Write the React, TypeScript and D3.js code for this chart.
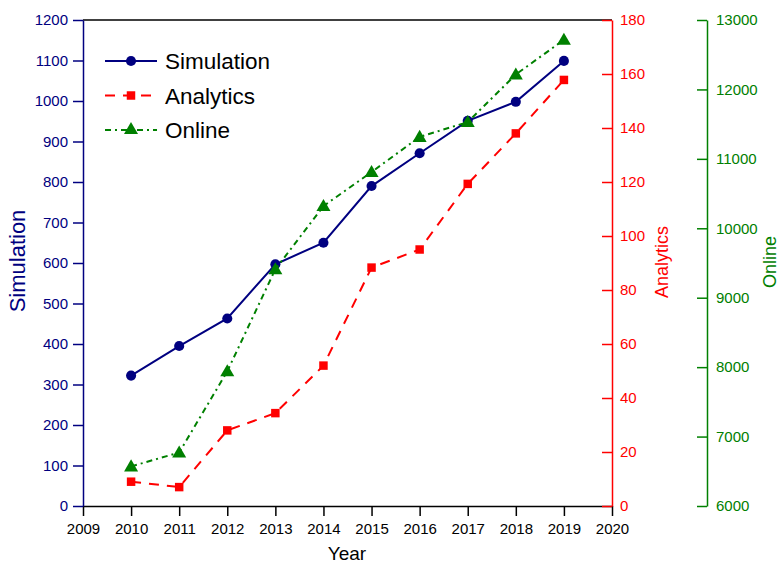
import React, { useEffect, useRef } from "react";
import * as d3 from "d3";

const years = [2010, 2011, 2012, 2013, 2014, 2015, 2016, 2017, 2018, 2019];
const simulation = [322, 395, 463, 597, 650, 790, 871, 951, 998, 1099];
const analytics = [9, 7, 28, 34.4, 52, 88.3, 95, 119.3, 138, 157.8];
const online = [6570, 6770, 7940, 9410, 10320, 10810, 11316, 11530, 12215, 12715];
const xTicks = [2009, 2010, 2011, 2012, 2013, 2014, 2015, 2016, 2017, 2018, 2019, 2020];
const simTicks = [0, 100, 200, 300, 400, 500, 600, 700, 800, 900, 1000, 1100, 1200];
const anaTicks = [0, 20, 40, 60, 80, 100, 120, 140, 160, 180];
const onlTicks = [6000, 7000, 8000, 9000, 10000, 11000, 12000, 13000];

const BLUE = "#000080";
const RED = "#FF0000";
const GREEN = "#008000";
const FONT = "'Liberation Sans', Arial, Helvetica, sans-serif";

export default function App() {
  const ref = useRef<SVGSVGElement>(null);
  useEffect(() => {
    const svg = d3.select(ref.current);
    svg.selectAll("*").remove();
    const L = 83, R = 612, T = 20, B = 506, G = 707;
    const x = d3.scaleLinear().domain([2009, 2020]).range([L, R]);
    const yS = d3.scaleLinear().domain([0, 1200]).range([B, T]);
    const yA = d3.scaleLinear().domain([0, 180]).range([B, T]);
    const yO = d3.scaleLinear().domain([6000, 13000]).range([B, T]);
    const fmt = d3.format("d");

    const g = svg.append("g").attr("font-family", FONT);

    // top border
    g.append("line").attr("x1", L).attr("x2", R).attr("y1", T).attr("y2", T)
      .attr("stroke", "#000").attr("stroke-width", 1.5);

    // bottom axis
    const xa = g.append("g").attr("transform", `translate(0,${B})`)
      .call(d3.axisBottom(x).tickValues(xTicks).tickFormat(fmt).tickSize(10).tickSizeOuter(0));
    xa.select(".domain").attr("stroke", "#000").attr("stroke-width", 1.5);
    xa.selectAll(".tick line").attr("stroke", "#000").attr("stroke-width", 1.5);
    xa.selectAll(".tick text").attr("fill", "#000").attr("font-size", 15).attr("font-family", FONT).attr("dy", "1.0em");

    // left axis
    const la = g.append("g").attr("transform", `translate(${L},0)`)
      .call(d3.axisLeft(yS).tickValues(simTicks).tickFormat(fmt).tickSize(10).tickSizeOuter(0));
    la.select(".domain").attr("stroke", BLUE).attr("stroke-width", 1.5);
    la.selectAll(".tick line").attr("stroke", BLUE).attr("stroke-width", 1.5);
    la.selectAll(".tick text").attr("fill", BLUE).attr("font-size", 15).attr("font-family", FONT).attr("x", -15);

    // red axis
    const ra = g.append("g").attr("transform", `translate(${R},0)`)
      .call(d3.axisRight(yA).tickValues(anaTicks).tickFormat(fmt).tickSize(-10).tickSizeOuter(0));
    ra.select(".domain").attr("stroke", RED).attr("stroke-width", 1.5);
    ra.selectAll(".tick line").attr("stroke", RED).attr("stroke-width", 1.5);
    ra.selectAll(".tick text").attr("fill", RED).attr("font-size", 15).attr("font-family", FONT).attr("x", 8);

    // green axis
    const ga = g.append("g").attr("transform", `translate(${G},0)`)
      .call(d3.axisRight(yO).tickValues(onlTicks).tickFormat(fmt).tickSize(-10).tickSizeOuter(0));
    ga.select(".domain").attr("stroke", GREEN).attr("stroke-width", 1.5);
    ga.selectAll(".tick line").attr("stroke", GREEN).attr("stroke-width", 1.5);
    ga.selectAll(".tick text").attr("fill", GREEN).attr("font-size", 15).attr("font-family", FONT).attr("x", 9);

    // axis titles
    g.append("text").attr("x", 347).attr("y", 560).attr("text-anchor", "middle")
      .attr("font-size", 19).attr("fill", "#000").text("Year");
    g.append("text").attr("transform", "translate(25,261) rotate(-90)").attr("text-anchor", "middle")
      .attr("font-size", 22).attr("fill", BLUE).text("Simulation");
    g.append("text").attr("transform", "translate(668,262) rotate(-90)").attr("text-anchor", "middle")
      .attr("font-size", 18).attr("fill", RED).text("Analytics");
    g.append("text").attr("transform", "translate(776,262) rotate(-90)").attr("text-anchor", "middle")
      .attr("font-size", 18).attr("fill", GREEN).text("Online");

    const series = [
      { vals: simulation, y: yS, color: BLUE, dash: null as string | null, sym: d3.symbolCircle, size: 80 },
      { vals: analytics, y: yA, color: RED, dash: "10,8", sym: d3.symbolSquare, size: 72 },
      { vals: online, y: yO, color: GREEN, dash: "6,4,2,4", sym: d3.symbolTriangle, size: 85 },
    ];

    series.forEach((s) => {
      const line = d3.line<number>().x((_, i) => x(years[i])).y((v) => s.y(v));
      const p = g.append("path").datum(s.vals).attr("d", line).attr("fill", "none")
        .attr("stroke", s.color).attr("stroke-width", 2);
      if (s.dash) p.attr("stroke-dasharray", s.dash);
      g.selectAll(null).data(s.vals).enter().append("path")
        .attr("d", d3.symbol().type(s.sym).size(s.size)())
        .attr("transform", (v, i) => `translate(${x(years[i])},${s.y(v) + (s.sym === d3.symbolTriangle ? 1 : 0)})`)
        .attr("fill", s.color);
    });

    // legend
    const names = ["Simulation", "Analytics", "Online"];
    series.forEach((s, i) => {
      const yy = 61 + i * 34.5;
      const ln = g.append("line").attr("x1", 105).attr("x2", 157).attr("y1", yy).attr("y2", yy)
        .attr("stroke", s.color).attr("stroke-width", 2);
      if (s.dash) ln.attr("stroke-dasharray", s.dash);
      g.append("path").attr("d", d3.symbol().type(s.sym).size(s.size)())
        .attr("transform", `translate(131,${yy})`).attr("fill", s.color);
      g.append("text").attr("x", 165).attr("y", yy + 8).attr("font-size", 22.5).attr("fill", "#000").text(names[i]);
    });
  }, []);
  return (
    <svg ref={ref} width={779} height={564}
      style={{ position: "absolute", left: 0, top: 0, background: "#fff" }} />
  );
}
